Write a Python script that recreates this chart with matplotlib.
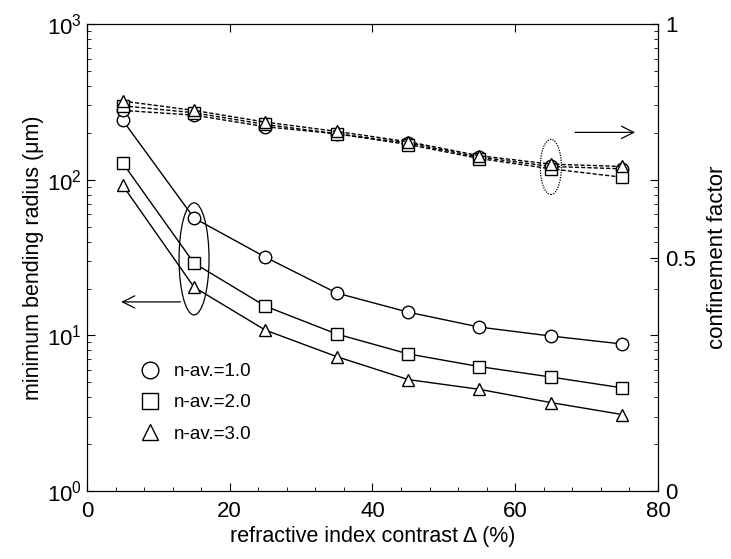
import numpy as np
import matplotlib
matplotlib.use('Agg')
import matplotlib.pyplot as plt
from matplotlib.patches import Ellipse
from matplotlib.ticker import MultipleLocator, LogLocator, FixedLocator, NullFormatter

plt.rcParams['font.family'] = ['Liberation Sans', 'DejaVu Sans']
plt.rcParams['mathtext.default'] = 'regular'

# data
delta = [5, 15, 25, 35, 45, 55, 65, 75]
radius_n1 = [241, 56.7, 31.8, 18.7, 14.1, 11.3, 9.9, 8.8]
radius_n2 = [128, 29.1, 15.4, 10.2, 7.6, 6.3, 5.4, 4.6]
radius_n3 = [92, 20.4, 10.8, 7.3, 5.2, 4.5, 3.7, 3.1]
conf_n1 = [0.815, 0.805, 0.780, 0.765, 0.745, 0.715, 0.695, 0.690]
conf_n2 = [0.825, 0.810, 0.785, 0.765, 0.742, 0.712, 0.690, 0.672]
conf_n3 = [0.835, 0.815, 0.790, 0.770, 0.748, 0.718, 0.700, 0.695]
labels = ['n-av.=1.0', 'n-av.=2.0', 'n-av.=3.0']
markers = ['o', 's', '^']

fig = plt.figure(figsize=(7.31, 5.59), dpi=100)
ax = fig.add_axes([0.119, 0.1216, 0.781, 0.8354])
ax2 = ax.twinx()

mk = dict(markerfacecolor='white', markeredgecolor='black', markeredgewidth=1.0, markersize=9)
for r, m in zip([radius_n1, radius_n2, radius_n3], markers):
    ax.plot(delta, r, color='black', lw=1.0, marker=m, **mk)
for c, m in zip([conf_n1, conf_n2, conf_n3], markers):
    ax2.plot(delta, c, color='black', lw=1.0, ls=(0, (3, 1.5)), marker=m, **mk)

ax.set_yscale('log')
ax.set_ylim(1, 1000)
ax.set_xlim(0, 80)
ax2.set_ylim(0, 1)

ax.xaxis.set_major_locator(MultipleLocator(20))
ax.xaxis.set_minor_locator(MultipleLocator(4))
ax.yaxis.set_major_locator(LogLocator(base=10))
ax.yaxis.set_minor_locator(LogLocator(base=10, subs=np.arange(2, 10)))
ax.yaxis.set_minor_formatter(NullFormatter())
ax.tick_params(axis='both', which='both', direction='in', top=True, right=True, labelsize=16)
ax.tick_params(axis='x', which='minor', top=False, length=3)
ax.tick_params(axis='y', which='minor', length=3)
ax.tick_params(axis='both', which='major', length=6)
ax.tick_params(axis='x', which='major', pad=7)

ax2.yaxis.set_major_locator(FixedLocator([0, 0.5, 1]))
ax2.set_yticklabels(['0', '0.5', '1'])
ax2.tick_params(axis='y', direction='in', length=6, labelsize=16, pad=5)

ax.set_xlabel('refractive index contrast \u0394 (%)', fontsize=15.5, labelpad=3)
ax.set_ylabel('minimum bending radius (\u03bcm)', fontsize=15.5, labelpad=2)
ax2.set_ylabel('confinement factor', fontsize=16, labelpad=8)

# legend
handles = [plt.Line2D([], [], ls='none', marker=m, markerfacecolor='white',
                      markeredgecolor='black', markersize=12) for m in markers]
ax.legend(handles, labels, loc='upper left', bbox_to_anchor=(0.08, 0.29),
          frameon=False, fontsize=13.5, handlelength=1.0, handletextpad=0.8,
          labelspacing=0.75, borderaxespad=0)

# ellipses and arrows
to_axes = ax.transAxes.inverted()
cx, cy = to_axes.transform(ax.transData.transform((15, 31)))
ax.add_patch(Ellipse((cx, cy), 0.0525, 0.24, transform=ax.transAxes,
                     fill=False, ec='black', lw=0.9))
cx2, cy2 = to_axes.transform(ax2.transData.transform((65, 0.694)))
ax.add_patch(Ellipse((cx2, cy2), 0.037, 0.118, transform=ax.transAxes,
                     fill=False, ec='black', lw=0.9, ls=(0, (1, 1))))

ax.annotate('', xy=(4.4, 16.4), xytext=(13.5, 16.4),
            arrowprops=dict(arrowstyle='->', lw=0.9, color='black', mutation_scale=22))
ax2.annotate('', xy=(77.2, 0.768), xytext=(68, 0.768),
             arrowprops=dict(arrowstyle='->', lw=0.9, color='black', mutation_scale=22))

fig.savefig('out.png', dpi=100)
